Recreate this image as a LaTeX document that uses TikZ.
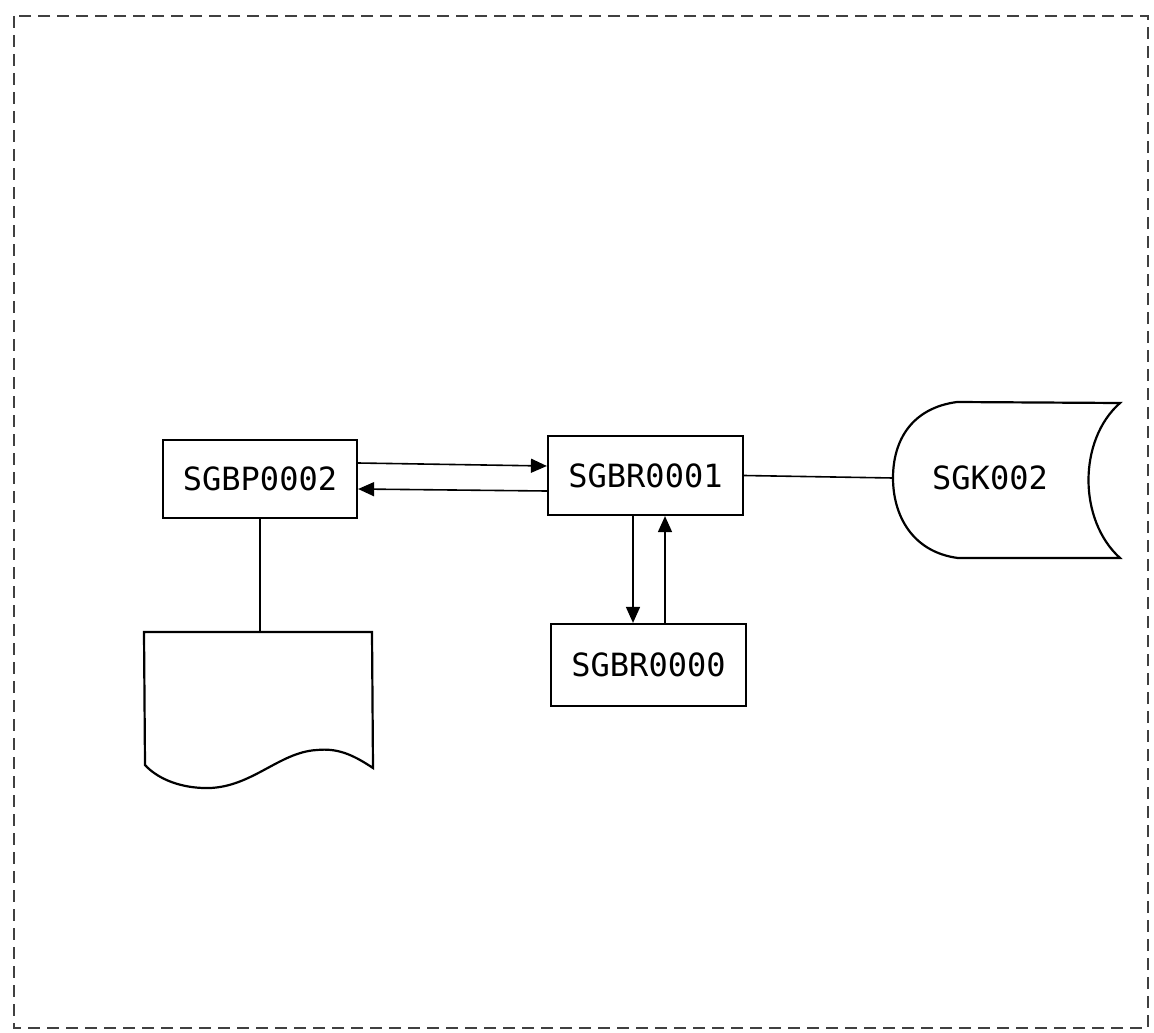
\documentclass[tikz,border=0pt]{standalone}
\usepackage{fontspec}
\newfontfamily\handfont{DejaVu Sans Mono}
\usetikzlibrary{arrows.meta}
\tikzset{
  handtext/.style={font=\handfont\fontsize{32}{34}\selectfont},
  boxnode/.style={draw, line width=2.2pt, rectangle, inner sep=0pt, handtext},
  arr/.style={line width=1.6pt, -{Triangle[length=16pt,width=14pt]}},
  plain/.style={line width=1.6pt},
  frame/.style={line width=1.1pt, black!75, dash pattern=on 12pt off 7pt}
}
\begin{document}
\begin{tikzpicture}[x=1pt,y=-1pt]
\useasboundingbox (0,0) rectangle (1154,1033);
\fill[white] (0,0) rectangle (1154,1033);
% frame
\draw[frame] (14,16) rectangle (1148,1028);
% boxes
\node[boxnode, minimum width=194pt, minimum height=78pt] (sgbp) at (260,479) {SGBP0002};
\node[boxnode, minimum width=195pt, minimum height=79pt] (sgbr1) at (645.5,475.5) {SGBR0001};
\node[boxnode, minimum width=195pt, minimum height=82pt] (sgbr0) at (648.5,665) {SGBR0000};
% stored data shape
\draw[line width=2.2pt] (957,402) -- (1120,403)
  .. controls (1078,440) and (1078,520) .. (1120,558)
  -- (958,558)
  .. controls (912,552) and (893,515) .. (893,478)
  .. controls (893,440) and (912,408) .. (957,402) -- cycle;
\node[handtext] (sgk) at (990,478) {SGK002};
\coordinate (sgkleft) at (893,478);
% document shape
\draw[line width=2.2pt] (144,632) -- (372,632) -- (373,768)
  .. controls (352,754) and (337,748) .. (317,750)
  .. controls (278,752) and (250,790) .. (203,788)
  .. controls (176,787) and (156,777) .. (145,765) -- cycle;
\coordinate (doctop) at (260,632);
% connectors
\draw[arr] ([yshift=16pt]sgbp.east) -- ([yshift=9.5pt]sgbr1.west);
\draw[arr] ([yshift=-15.5pt]sgbr1.west) -- ([yshift=-10pt]sgbp.east);
\draw[arr] ([xshift=-12.5pt]sgbr1.south) -- ([xshift=-15.5pt]sgbr0.north);
\draw[arr] ([xshift=16.5pt]sgbr0.north) -- ([xshift=19.5pt]sgbr1.south);
\draw[plain] (sgbr1.east) -- (sgkleft);
\draw[plain] (sgbp.south) -- (doctop);
\end{tikzpicture}
\end{document}
